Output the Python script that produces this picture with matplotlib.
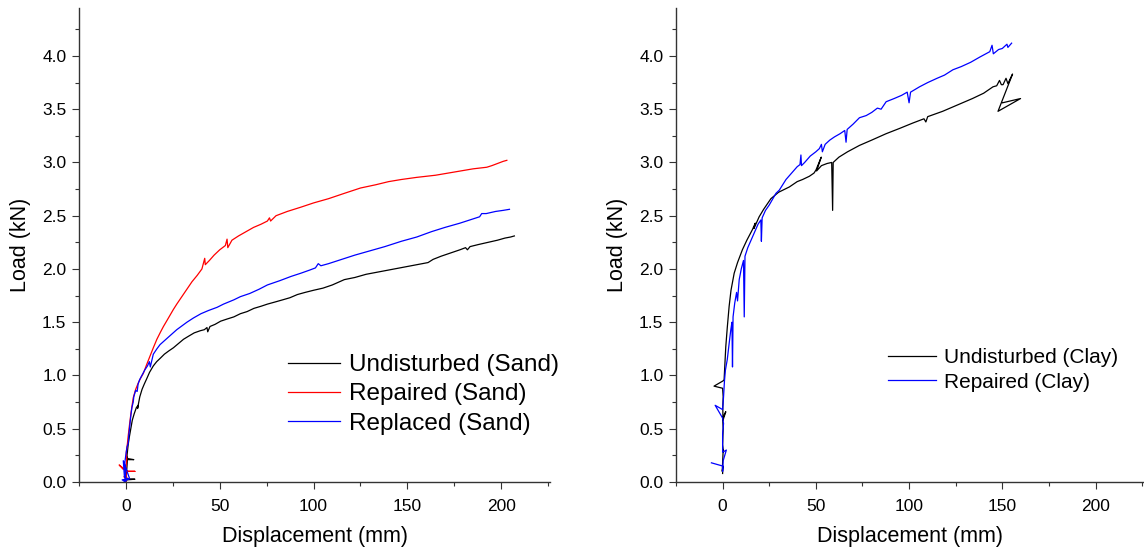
import matplotlib
matplotlib.use("Agg")
import matplotlib.pyplot as plt
from matplotlib.ticker import MultipleLocator, FormatStrFormatter

plt.rcParams['font.family'] = ['Liberation Sans', 'DejaVu Sans']

# ---------------- data: left panel (Sand) ----------------
und_sand_x = [0.0, 0.4, 4.8, 0.6, 0.2, 0.8, 4.2, 0.9, 0.6, 1.2, 1.8, 2.6, 3.4, 4.4, 5.6, 6.6, 6.2, 7.4,
              8.6, 9.8, 11.1, 12.6, 14.6, 16.4, 18.2, 20.5, 22.8, 25.3, 28.0, 30.7, 33.5, 36.4, 39.6,
              41.8, 43.2, 43.6, 44.8, 47.5, 50.5, 53.9, 57.5, 61.0, 64.6, 68.2, 72.0, 75.4, 79.5, 83.5,
              87.4, 91.4, 95.5, 100, 105, 110, 116.4, 122, 128, 134, 140, 146, 152, 158, 161, 163.7,
              168, 173, 178, 181, 182, 183.4, 188, 193, 198, 202, 205, 207]
und_sand_y = [0.0, 0.02, 0.026, 0.03, 0.05, 0.21, 0.21, 0.22, 0.25, 0.35, 0.42, 0.5, 0.58, 0.64, 0.7, 0.72,
              0.69, 0.8, 0.87, 0.92, 0.97, 1.03, 1.09, 1.13, 1.16, 1.2, 1.23, 1.26, 1.3, 1.34, 1.37, 1.40,
              1.42, 1.43, 1.45, 1.41, 1.46, 1.48, 1.51, 1.53, 1.55, 1.58, 1.60, 1.63, 1.65, 1.67, 1.69,
              1.71, 1.73, 1.76, 1.78, 1.80, 1.82, 1.85, 1.90, 1.92, 1.95, 1.97, 1.99, 2.01, 2.03, 2.05,
              2.06, 2.09, 2.12, 2.15, 2.18, 2.20, 2.18, 2.21, 2.23, 2.25, 2.27, 2.29, 2.30, 2.31]

rep_sand_x = [0.0, 0.3, -1.0, 0.5, 0.0, 4.8, 1.2, 0.0, -3.6, -1.5, 0.0, 0.4, 0.2, 0.8, 1.2, 2.0, 2.8, 3.9,
              5.2, 6.6, 8.0, 9.3, 11.0, 12.8, 14.6, 16.5, 18.5, 20.0, 22.0, 25.3, 27.1, 29.8, 32.5, 35.2,
              38.0, 40.5, 42.0, 42.3, 44.5, 47.0, 50.0, 53.0, 53.9, 54.3, 56.5, 60, 64, 68, 72, 75.4, 76.5,
              77.1, 80, 86, 93.2, 100, 108, 116.4, 125, 133, 140, 146.8, 155, 165, 175, 185, 192.3, 195,
              198, 201, 203]
rep_sand_y = [0.0, 0.03, 0.05, 0.02, 0.1, 0.1, 0.1, 0.11, 0.16, 0.12, 0.14, 0.2, 0.28, 0.36, 0.43, 0.55,
              0.66, 0.79, 0.87, 0.93, 0.98, 1.02, 1.1, 1.18, 1.26, 1.34, 1.41, 1.46, 1.52, 1.62, 1.67, 1.74,
              1.81, 1.88, 1.94, 2.0, 2.1, 2.04, 2.08, 2.13, 2.18, 2.22, 2.28, 2.2, 2.27, 2.31, 2.35, 2.39,
              2.42, 2.45, 2.48, 2.45, 2.5, 2.54, 2.58, 2.62, 2.66, 2.71, 2.76, 2.79, 2.82, 2.84, 2.86, 2.88,
              2.91, 2.94, 2.955, 2.97, 2.99, 3.01, 3.02]

rpl_sand_x = [0.0, -2.0, 1.0, -1.0, 2.0, -1.4, -0.8, 0.0, -0.6, 0.0, 0.6, 1.2, 1.6, 2.2, 2.6, 3.2, 3.9,
              4.2, 5.2, 6.0, 6.5, 7.3, 8.5, 10.0, 11.5, 12.5, 13.0, 14.6, 16.5, 18.2, 22.0, 27.1, 32.5,
              36.0, 40.0, 44.0, 48.6, 52.0, 57.5, 61.0, 66.0, 71.0, 75.4, 82.0, 88.0, 93.2, 98.0, 101.0,
              102.5, 103.9, 108, 115, 122, 130, 138, 146.8, 155, 162.8, 170, 178, 185, 188.5, 189.6, 192,
              197, 201, 204.4]
rpl_sand_y = [0.0, 0.02, 0.03, 0.01, 0.03, 0.2, 0.05, 0.02, 0.18, 0.26, 0.33, 0.36, 0.45, 0.55, 0.62, 0.7,
              0.75, 0.8, 0.86, 0.85, 0.92, 0.96, 1.0, 1.05, 1.09, 1.13, 1.08, 1.2, 1.25, 1.29, 1.35, 1.43,
              1.50, 1.54, 1.58, 1.61, 1.64, 1.67, 1.71, 1.74, 1.77, 1.81, 1.85, 1.89, 1.93, 1.96, 1.99,
              2.01, 2.05, 2.03, 2.05, 2.09, 2.13, 2.17, 2.21, 2.26, 2.30, 2.35, 2.39, 2.43, 2.47, 2.49,
              2.52, 2.52, 2.54, 2.55, 2.56]

# ---------------- data: right panel (Clay) ----------------
und_clay_x = [0.0, 0.2, -0.2, 0.3, 0.5, 0.0, 0.3, 0.0, 1.7, 0.2, 0.1, 0.3, 0.0, -4.6, 0.3, 0.8, 1.2, 1.7,
              2.5, 3.5, 4.5, 6.2, 8.0, 10.6, 13.0, 16.0, 17.5, 16.8, 19.6, 22.0, 25.9, 30.0, 35.8, 40.0,
              42.9, 46.5, 49.0, 50.1, 52.9, 50.4, 53.0, 56.0, 58.5, 59.0, 59.3, 62.4, 67.0, 73.4, 80.0,
              87.7, 95.0, 102, 108, 109, 110, 118, 126, 134, 140, 145, 147, 148.5, 149.5, 150.4, 152,
              153, 155.5, 147.7, 159.8, 150.1]
und_clay_y = [0.08, 0.15, 0.1, 0.3, 0.28, 0.35, 0.5, 0.6, 0.66, 0.58, 0.7, 0.8, 0.88, 0.90, 0.95, 0.96,
              1.1, 1.27, 1.45, 1.65, 1.8, 1.96, 2.06, 2.18, 2.27, 2.37, 2.43, 2.38, 2.49, 2.56, 2.66, 2.72,
              2.77, 2.82, 2.84, 2.87, 2.9, 2.93, 3.05, 2.92, 2.97, 2.99, 3.0, 2.55, 3.0, 3.05, 3.1, 3.16,
              3.21, 3.27, 3.32, 3.37, 3.41, 3.38, 3.43, 3.48, 3.54, 3.6, 3.65, 3.71, 3.72, 3.77, 3.73,
              3.73, 3.79, 3.74, 3.83, 3.48, 3.60, 3.56]

rep_clay_x = [-6.0, 0.0, 0.0, 0.3, 2.0, 0.0, 0.0, 0.5, 0.0, -4.0, 0.0, 0.5, 1.0, 1.5, 2.5, 3.5, 4.4, 5.0,
              5.3, 5.6, 6.5, 7.5, 8.0, 8.9, 10.0, 11.2, 11.6, 12.0, 13.5, 15.0, 16.0, 17.5, 19.0, 20.5,
              20.8, 21.2, 23.0, 25.0, 28.6, 30.4, 34.0, 37.0, 40.0, 41.5, 42.0, 42.3, 44.0, 47.0, 50.0,
              51.9, 53.0, 53.5, 55.0, 57.5, 60.0, 63.0, 65.5, 66.2, 66.8, 70.0, 73.4, 77.0, 80.0, 83.0,
              85.0, 87.7, 92.0, 96.0, 99.0, 100.0, 100.8, 105.6, 110, 115, 119, 123.5, 128, 133, 138,
              143.3, 144.5, 145.2, 148, 150, 152.5, 153, 155]
rep_clay_y = [0.18, 0.15, 0.1, 0.2, 0.3, 0.28, 0.45, 0.55, 0.6, 0.72, 0.68, 0.8, 0.95, 1.05, 1.15, 1.3,
              1.43, 1.5, 1.08, 1.55, 1.68, 1.78, 1.7, 1.9, 2.0, 2.08, 1.55, 2.12, 2.2, 2.26, 2.30, 2.36,
              2.42, 2.46, 2.26, 2.48, 2.55, 2.6, 2.71, 2.74, 2.84, 2.9, 2.96, 2.98, 3.07, 2.97, 3.0, 3.06,
              3.1, 3.13, 3.17, 3.1, 3.17, 3.21, 3.24, 3.27, 3.3, 3.19, 3.31, 3.36, 3.42, 3.44, 3.47, 3.51,
              3.5, 3.57, 3.6, 3.63, 3.66, 3.56, 3.66, 3.71, 3.75, 3.79, 3.82, 3.87, 3.9, 3.94, 3.99,
              4.04, 4.1, 4.02, 4.06, 4.07, 4.11, 4.08, 4.12]

sand_labels = ["Undisturbed (Sand)", "Repaired (Sand)", "Replaced (Sand)"]
clay_labels = ["Undisturbed (Clay)", "Repaired (Clay)"]
x_ticks = [0, 50, 100, 150, 200]
y_ticks = [0.0, 0.5, 1.0, 1.5, 2.0, 2.5, 3.0, 3.5, 4.0]

fig = plt.figure(figsize=(11.44, 5.52), dpi=100)
ax1 = fig.add_axes([79 / 1144, 70 / 552, 471 / 1144, 474 / 552])
ax2 = fig.add_axes([676 / 1144, 70 / 552, 468 / 1144, 474 / 552])

lw = 0.9
ax1.plot(und_sand_x, und_sand_y, color='black', lw=lw, label=sand_labels[0])
ax1.plot(rep_sand_x, rep_sand_y, color='#ff0000', lw=lw, label=sand_labels[1])
ax1.plot(rpl_sand_x, rpl_sand_y, color='#0000ff', lw=lw, label=sand_labels[2])

ax2.plot(und_clay_x, und_clay_y, color='black', lw=lw, label=clay_labels[0])
ax2.plot(rep_clay_x, rep_clay_y, color='#0000ff', lw=lw, label=clay_labels[1])

for ax in (ax1, ax2):
    ax.set_xlim(-25, 226)
    ax.set_ylim(0, 4.45)
    ax.spines['top'].set_visible(False)
    ax.spines['right'].set_visible(False)
    for s in ('left', 'bottom'):
        ax.spines[s].set_color('#333333')
        ax.spines[s].set_linewidth(1.0)
    ax.set_xticks(x_ticks)
    ax.set_yticks(y_ticks)
    ax.yaxis.set_major_formatter(FormatStrFormatter('%.1f'))
    ax.xaxis.set_minor_locator(MultipleLocator(25))
    ax.yaxis.set_minor_locator(MultipleLocator(0.25))
    ax.tick_params(which='major', direction='out', length=5, width=0.8, color='#333333',
                   labelsize=12.5, pad=4)
    ax.tick_params(axis='x', which='major', pad=7)
    ax.tick_params(which='minor', direction='out', length=3, width=0.8, color='#333333')
    ax.set_xlabel("Displacement (mm)", fontsize=15.5, labelpad=9)
    ax.set_ylabel("Load (kN)", fontsize=15.5, labelpad=8)

ax1.legend(loc='upper left', bbox_to_anchor=(0.444, 0.27), frameon=False, fontsize=17.5,
           handlelength=2.15, handletextpad=0.35, labelspacing=0.3, borderpad=0, borderaxespad=0)
ax2.legend(loc='upper left', bbox_to_anchor=(0.453, 0.282), frameon=False, fontsize=15,
           handlelength=2.3, handletextpad=0.4, labelspacing=0.25, borderpad=0, borderaxespad=0)

fig.savefig("out.png", dpi=100)
